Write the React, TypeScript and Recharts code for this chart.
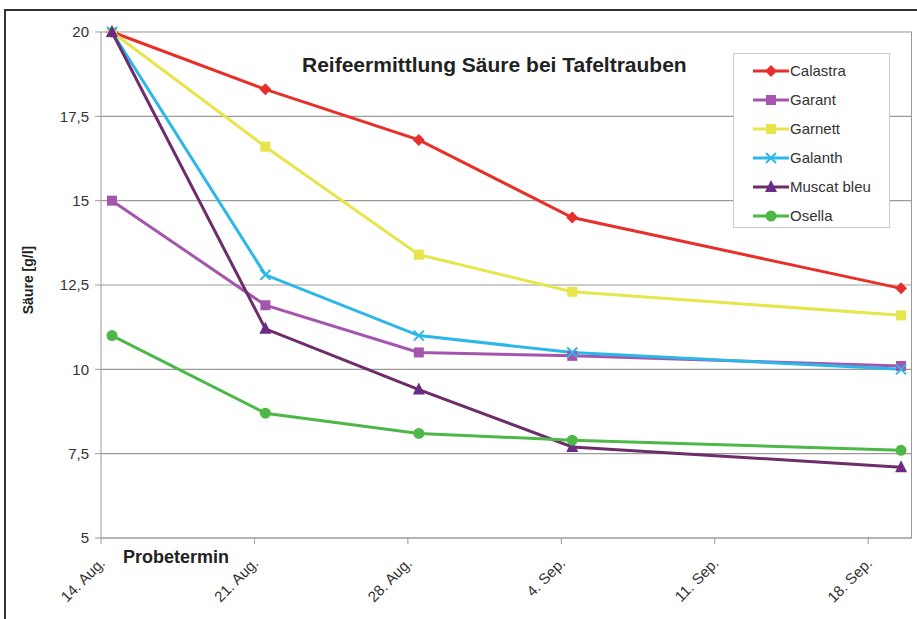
import React from 'react';
import { LineChart, Line, XAxis, YAxis, CartesianGrid, Legend } from 'recharts';

// days after 14. Aug (points sit around noon of the sampling day)
const sampleDays = [0.5, 7.5, 14.5, 21.5, 36.5];
const tickDays = [0, 7, 14, 21, 28, 35];
const tickLabels = ['14. Aug.', '21. Aug.', '28. Aug.', '4. Sep.', '11. Sep.', '18. Sep.'];
const yTicks = [5, 7.5, 10, 12.5, 15, 17.5, 20];

const calastra = [20, 18.3, 16.8, 14.5, 12.4];
const garant = [15, 11.9, 10.5, 10.4, 10.1];
const garnett = [20, 16.6, 13.4, 12.3, 11.6];
const galanth = [20, 12.8, 11.0, 10.5, 10.0];
const muscatBleu = [20, 11.2, 9.4, 7.7, 7.1];
const osella = [11, 8.7, 8.1, 7.9, 7.6];

const series = [
  { key: 'Calastra', values: calastra, color: '#E8302A', shape: 'diamond' },
  { key: 'Garant', values: garant, color: '#A455AE', shape: 'square' },
  { key: 'Garnett', values: garnett, color: '#E6E64A', shape: 'square' },
  { key: 'Galanth', values: galanth, color: '#2BB8E8', shape: 'cross' },
  { key: 'Muscat bleu', values: muscatBleu, color: '#6E2C6A', shape: 'triangle', fill: '#6A2A86' },
  { key: 'Osella', values: osella, color: '#4DB848', shape: 'circle' },
];

const data = sampleDays.map((d, i) => {
  const row: Record<string, number> = { day: d };
  series.forEach((s) => (row[s.key] = s.values[i]));
  return row;
});

const font = '"Liberation Sans", Arial, sans-serif';

function Marker({ shape, cx, cy, color }: { shape: string; cx: number; cy: number; color: string }) {
  if (shape === 'diamond')
    return <polygon points={`${cx},${cy - 6} ${cx + 6},${cy} ${cx},${cy + 6} ${cx - 6},${cy}`} fill={color} />;
  if (shape === 'square') return <rect x={cx - 5} y={cy - 5} width={10} height={10} fill={color} />;
  if (shape === 'triangle')
    return <polygon points={`${cx},${cy - 7} ${cx + 6},${cy + 5} ${cx - 6},${cy + 5}`} fill={color} />;
  if (shape === 'circle') return <circle cx={cx} cy={cy} r={5.5} fill={color} />;
  return (
    <g stroke={color} strokeWidth={2}>
      <line x1={cx - 5} y1={cy - 5} x2={cx + 5} y2={cy + 5} />
      <line x1={cx - 5} y1={cy + 5} x2={cx + 5} y2={cy - 5} />
    </g>
  );
}

const makeDot = (shape: string, color: string) => (props: any) =>
  <Marker key={`d-${props.index}`} shape={shape} cx={props.cx} cy={props.cy} color={color} />;

const XTick = (props: any) => {
  const { x, y, payload } = props;
  const tx = x + 5;
  const ty = y + 18;
  return (
    <text x={tx} y={ty} textAnchor="end" fontSize={15} fill="#333" fontFamily={font}
      transform={`rotate(-45, ${tx}, ${ty})`}>
      {tickLabels[tickDays.indexOf(payload.value)]}
    </text>
  );
};

const LegendBox = () => (
  <div style={{ width: 157, height: 175, border: '1px solid #ccc', background: '#fff', boxSizing: 'border-box', paddingTop: 2 }}>
    {series.map((s) => (
      <div key={s.key} style={{ display: 'flex', alignItems: 'center', height: 29, fontFamily: font, fontSize: 15, color: '#333' }}>
        <svg width={56} height={16}>
          <line x1={19} y1={8} x2={55} y2={8} stroke={s.color} strokeWidth={3} />
          <Marker shape={s.shape} cx={37} cy={8} color={s.fill ?? s.color} />
        </svg>
        <span>{s.key}</span>
      </div>
    ))}
  </div>
);

export default function App() {
  return (
    <div style={{ position: 'absolute', left: 0, top: 0, width: 917, height: 619, background: '#fff', overflow: 'hidden' }}>
      <div style={{ position: 'absolute', left: 4, top: 9, width: 940, height: 640, borderLeft: '2px solid #333', borderTop: '2px solid #333' }} />
      <LineChart width={917} height={619} data={data} margin={{ top: 32, right: 5, bottom: 21, left: 0 }}>
        <CartesianGrid horizontal vertical={false} stroke="#9a9a9a" strokeWidth={1.2} />
        <XAxis dataKey="day" type="number" domain={[0, 37]} ticks={tickDays} height={60}
          stroke="#9a9a9a" tickSize={6} tick={<XTick />} interval={0} />
        <YAxis domain={[5, 20]} ticks={yTicks} width={101} stroke="#9a9a9a" tickSize={6} tickMargin={6}
          tickFormatter={(v: number) => String(v).replace('.', ',')}
          tick={{ fontSize: 15, fill: '#333', fontFamily: font }} />
        <Legend layout="horizontal" verticalAlign="middle" align="center" content={<LegendBox />}
          wrapperStyle={{ left: 733, top: 53, width: 157, height: 175 }} />
        {series.map((s) => (
          <Line key={s.key} dataKey={s.key} stroke={s.color} strokeWidth={3}
            dot={makeDot(s.shape, s.fill ?? s.color)} activeDot={false} isAnimationActive={false} />
        ))}
      </LineChart>
      <div style={{ position: 'absolute', left: 911, top: 32, width: 0, height: 506, borderLeft: '1.5px solid #9a9a9a' }} />
      <div style={{ position: 'absolute', left: 302, top: 53, fontFamily: font, fontSize: 21, fontWeight: 'bold', color: '#222', whiteSpace: 'nowrap' }}>
        Reifeermittlung Säure bei Tafeltrauben
      </div>
      <div style={{ position: 'absolute', left: 123, top: 547, fontFamily: font, fontSize: 18, fontWeight: 'bold', color: '#222' }}>
        Probetermin
      </div>
      <div style={{ position: 'absolute', left: 28, top: 280, transform: 'translate(-50%, -50%) rotate(-90deg)', whiteSpace: 'nowrap', fontFamily: font, fontSize: 14, fontWeight: 'bold', color: '#222' }}>
        Säure [g/l]
      </div>
    </div>
  );
}
